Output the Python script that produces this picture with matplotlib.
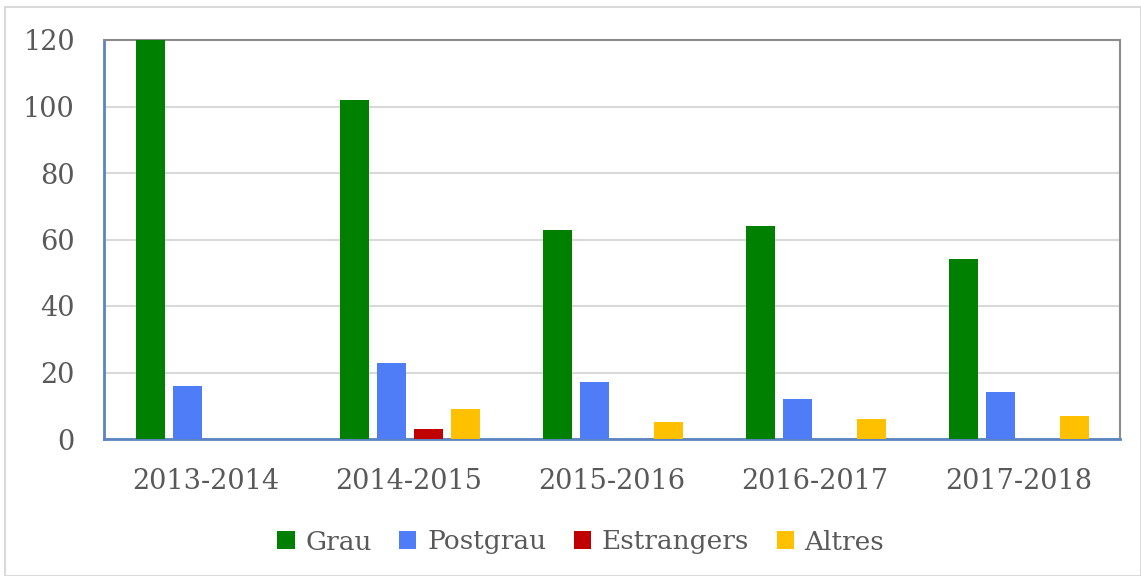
import matplotlib.pyplot as plt
from matplotlib.patches import Rectangle
import numpy

years = ["2013-2014", "2014-2015", "2015-2016", "2016-2017", "2017-2018"]
grau = [120, 102, 63, 64, 54]
postgrau = [16, 23, 17, 12, 14]
estrangers = [0, 3, 0, 0, 0]
altres = [0, 9, 5, 6, 7]

series = [
    ("Grau", grau, "#008000"),
    ("Postgrau", postgrau, "#4f7cf7"),
    ("Estrangers", estrangers, "#c00000"),
    ("Altres", altres, "#ffc000"),
]

plt.rcParams['font.family'] = ['DejaVu Serif']

fig = plt.figure(figsize=(11.41, 5.76), dpi=100)
ax = fig.add_axes([104 / 1141, 1 - 439 / 576, 1016 / 1141, 399 / 576])

x = numpy.arange(len(years))
step = 0.182
width = 0.143
for i, (name, values, color) in enumerate(series):
    ax.bar(x + (i - 1.5) * step + 0.004, values, width, color=color, label=name, zorder=3)

ax.set_xlim(-0.5, len(years) - 0.5)
ax.set_ylim(0, 120)
ax.set_yticks(range(0, 121, 20))
ax.set_xticks(x)
ax.set_xticklabels(years)
ax.yaxis.grid(True, color="#d9d9d9", lw=1.5, zorder=0)
ax.tick_params(length=0, labelsize=19.5, colors="#595959")
ax.tick_params(axis="x", pad=21)
ax.tick_params(axis="y", pad=21)

for side in ["top", "right"]:
    ax.spines[side].set_color("#8c8c8c")
    ax.spines[side].set_linewidth(1.5)
for side in ["left", "bottom"]:
    ax.spines[side].set_color("#5b84c0")
    ax.spines[side].set_linewidth(2)

leg = fig.legend(loc="center", bbox_to_anchor=(0.509, 1 - 542 / 576), ncol=4,
                 frameon=False, fontsize=19, handlelength=0.65, handleheight=0.65,
                 handletextpad=0.4, columnspacing=1.05)
for t in leg.get_texts():
    t.set_color("#595959")

fig.patches.append(Rectangle((5 / 1141, 0), 1 - 5 / 1141, 1 - 7 / 576,
                             transform=fig.transFigure, fill=False,
                             edgecolor="#d9d9d9", lw=1.5))

fig.savefig("out.png", dpi=100)
